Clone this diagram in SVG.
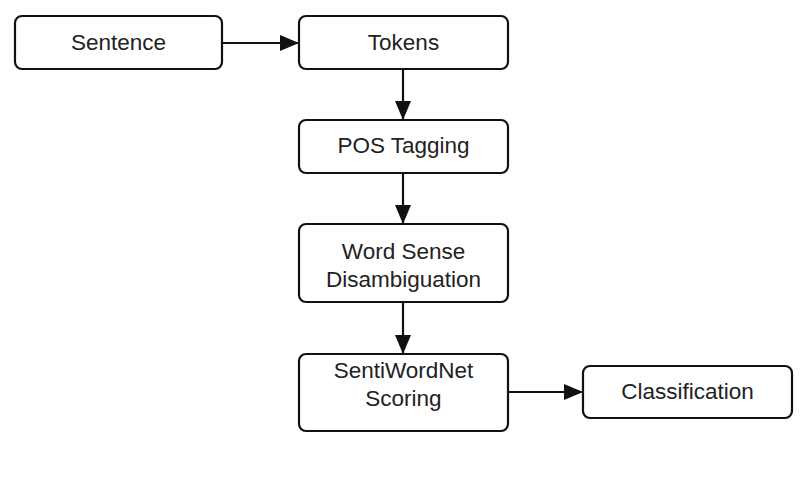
<svg xmlns="http://www.w3.org/2000/svg" width="812" height="490" viewBox="0 0 812 490">
<style>
.box{fill:#fff;stroke:#111;stroke-width:2.2}
.lbl{font-family:"Liberation Sans",Arial,sans-serif;font-size:22.5px;fill:#222;text-anchor:middle}
.edge{stroke:#111;stroke-width:2.2;fill:none;marker-end:url(#arr)}
</style>
<defs>
<marker id="arr" viewBox="0 0 19 16" refX="18" refY="8" markerWidth="19" markerHeight="16" markerUnits="userSpaceOnUse" orient="auto">
<path d="M0,0 L19,8 L0,16 z" fill="#111"/>
</marker>
</defs>
<rect width="812" height="490" fill="#fff"/>
<g id="connectors">
<path class="edge" d="M222,43 H298"/>
<path class="edge" d="M403,69 V119"/>
<path class="edge" d="M403,173 V223"/>
<path class="edge" d="M403,302 V353"/>
<path class="edge" d="M508,392 H582"/>
</g>
<g id="sentence">
<rect class="box" x="15" y="16" width="207" height="53" rx="7"/>
<text class="lbl" x="118.5" y="50">Sentence</text>
</g>
<g id="tokens">
<rect class="box" x="299" y="16" width="209" height="53" rx="7"/>
<text class="lbl" x="403.5" y="50">Tokens</text>
</g>
<g id="pos">
<rect class="box" x="299" y="120" width="209" height="53" rx="7"/>
<text class="lbl" x="403.5" y="153">POS Tagging</text>
</g>
<g id="wsd">
<rect class="box" x="299" y="224" width="209" height="78" rx="7"/>
<text class="lbl" x="403.5" y="259">Word Sense</text>
<text class="lbl" x="403.5" y="287">Disambiguation</text>
</g>
<g id="swn">
<rect class="box" x="299" y="354" width="209" height="77" rx="7"/>
<text class="lbl" x="403.5" y="378">SentiWordNet</text>
<text class="lbl" x="403.5" y="406">Scoring</text>
</g>
<g id="classification">
<rect class="box" x="583" y="366" width="209" height="52" rx="7"/>
<text class="lbl" x="687.5" y="399">Classification</text>
</g>
</svg>
